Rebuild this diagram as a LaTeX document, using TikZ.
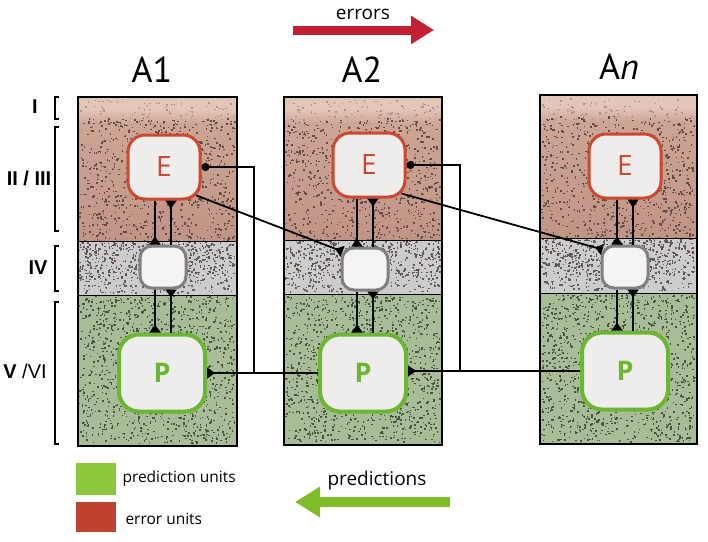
\documentclass[tikz,border=0pt]{standalone}
\usepackage{fontspec}
\setmainfont{Open Sans}
\newfontfamily\labfont{Liberation Sans}
\newfontfamily\titlefont{PT Sans}
\usetikzlibrary{arrows.meta,calc}
\definecolor{brtop}{RGB}{228,198,184}
\definecolor{brmid}{RGB}{206,166,150}
\definecolor{brbot}{RGB}{192,148,132}
\definecolor{graylay}{RGB}{204,204,204}
\definecolor{greenlay}{RGB}{168,188,152}
\definecolor{brspeck}{RGB}{100,76,70}
\definecolor{grspeck}{RGB}{95,95,95}
\definecolor{gnspeck}{RGB}{70,86,62}
\definecolor{ered}{RGB}{204,72,48}
\definecolor{pgreen}{RGB}{108,182,52}
\definecolor{mgray}{RGB}{128,128,128}
\definecolor{nodefill}{RGB}{238,237,235}
\definecolor{errarrow}{RGB}{196,32,51}
\definecolor{predarrow}{RGB}{126,188,40}
\definecolor{legred}{RGB}{192,66,46}
\definecolor{leggreen}{RGB}{140,200,60}
% #1 x0, #2 x1, #3 y0, #4 y1, #5 count, #6 colour
\newcommand\specks[6]{%
  \foreach \i in {1,...,#5}{%
    \fill[#6] ({#1+1+rnd*(#2-#1-4)},{#3+1+rnd*(#4-#3-4)}) rectangle ++({0.9+rnd*1.3},{0.9+rnd*1.3});
  }%
}
\newcommand\drawcol[6]{%
  \fill[brtop] (#1,#3) rectangle (#2,#3+22);
  \shade[top color=brmid,bottom color=brbot] (#1,#3+22) rectangle (#2,#4);
  \shade[top color=brtop,bottom color=brmid] (#1,#3+12) rectangle (#2,#3+26);
  \fill[graylay] (#1,#4) rectangle (#2,#5);
  \fill[greenlay] (#1,#5) rectangle (#2,#6);
  \specks{#1}{#2}{#3+2}{#3+22}{80}{brspeck!40!brtop}
  \specks{#1}{#2}{#3+20}{#4}{1000}{brspeck}
  \specks{#1}{#2}{#4}{#5}{430}{grspeck}
  \specks{#1}{#2}{#5}{#6}{1200}{gnspeck}
  \draw[line width=1] (#1,#4) -- (#2,#4) (#1,#5) -- (#2,#5);
  \draw[line width=1.6] (#1,#3) rectangle (#2,#6);
}
\begin{document}
\begin{tikzpicture}[x=1pt,y=-1pt,
  unitbox/.style={draw, fill=nodefill, line width=3, inner sep=0pt},
  eunit/.style={unitbox, draw=ered, text=ered, minimum width=72, minimum height=64, rounded corners=17, font=\fontsize{28}{28}\selectfont},
  punit/.style={unitbox, draw=pgreen, text=pgreen, line width=4, minimum width=86, minimum height=77, rounded corners=20, font=\fontsize{27}{27}\selectfont\bfseries},
  munit/.style={unitbox, draw=mgray, fill=nodefill!60!white, minimum width=46, minimum height=42, rounded corners=12},
  conn/.style={line width=1.8, draw=black},
  tri/.style={conn, -{Triangle[reversed,length=8pt,width=11pt]}},
  dotstart/.style={conn, {Circle[length=8pt]}-},
  title/.style={font=\titlefont\fontsize{36}{36}\selectfont},
  laylab/.style={font=\labfont\bfseries\fontsize{20}{20}\selectfont},
  brk/.style={line width=1.2},
  legtext/.style={anchor=west, font=\fontsize{15.5}{16}\selectfont},
  bigtext/.style={font=\fontsize{19}{19}\selectfont}
]
\useasboundingbox (0,0) rectangle (708,541);
\pgfmathsetseed{7}

% columns
\drawcol{78}{237}{97}{241}{295}{446}
\drawcol{284}{442}{97}{240}{294}{445}
\drawcol{540}{697}{95}{238}{293}{444}

% titles
\node[title] (tA1) at (152,70) {A1};
\node[title] (tA2) at (362,70) {A2};
\node[title] (tAn) at (619,67) {A\textit{n}};

% layer labels and brackets
\node[laylab] (lI) at (35,107) {I};
\node[laylab] (lII) at (29,178) {II / III};
\node[laylab] (lIV) at (38,268) {IV};
\node[laylab] (lV) at (25,371) {V {\mdseries/VI}};
\draw[brk] (59,97) -- (55,97) -- (55,119) -- (59,119);
\draw[brk] (59,127) -- (55,127) -- (55,231) -- (59,231);
\draw[brk] (59,246) -- (55,246) -- (55,291) -- (59,291);
\draw[brk] (59,302) -- (55,302) -- (55,444) -- (59,444);

% units
\node[eunit] (E1) at (164,167) {E};
\node[munit] (M1) at (163,267) {};
\node[punit] (P1) at (162,373) {P};
\node[eunit] (E2) at (369,165) {E};
\node[munit] (M2) at (365,269) {};
\node[punit] (P2) at (363,373) {P};
\node[eunit] (E3) at (625,166) {E};
\node[munit] (M3) at (625,267) {};
\node[punit] (P3) at (625,371) {P};

% vertical connections within columns
\foreach \c in {1,2,3}{
  \coordinate (L\c) at ($(M\c.north)+(-8,0)$);
  \coordinate (R\c) at ($(M\c.north)+(8,0)$);
  \draw[tri] (L\c |- E\c.south) -- (L\c |- M\c.north);
  \draw[tri] (R\c |- M\c.north) -- (R\c |- E\c.south);
  \draw[tri] (L\c |- M\c.south) -- (L\c |- P\c.north);
  \draw[tri] (R\c |- P\c.north) -- (R\c |- M\c.south);
}

% feedforward error connections
\draw[tri] ($(E1.south east)+(-5,-5)$) -- ($(M2.north west)+(2,5)$);
\draw[tri] ($(E2.south east)+(-5,-5)$) -- ($(M3.north west)+(2,5)$);

% feedback prediction connections
\coordinate (j1) at (254,373);
\coordinate (j2) at (460,371);
\draw[tri] (P2.west) -- (P1.east);
\draw[dotstart] (E1.east) -| (j1);
\draw[tri] (P3.west) -- (P3.west -| P2.east);
\draw[dotstart] (E2.east) -| (j2);

% big arrows
\node[bigtext] (errtxt) at (363,14) {errors};
\coordinate (ea) at (293,30);
\coordinate (eb) at (434,30);
\draw[errarrow, line width=9, -{Triangle[length=23pt,width=27pt]}] (ea) -- (eb);
\node[bigtext] (predtxt) at (377,481) {predictions};
\coordinate (pa) at (450,502);
\coordinate (pb) at (295,502);
\draw[predarrow, line width=10, -{Triangle[length=25pt,width=29pt]}] (pa) -- (pb);

% legend
\fill[leggreen] (76,463) rectangle (116,495);
\fill[legred] (76,502) rectangle (116,532);
\node[legtext] (lg1) at (119,478) {prediction units};
\node[legtext] (lg2) at (122,519) {error units};
\end{tikzpicture}
\end{document}
